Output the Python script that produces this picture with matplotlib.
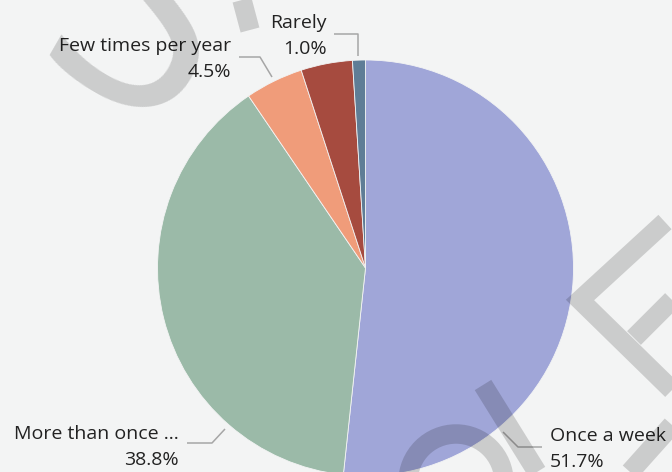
import matplotlib
matplotlib.use("Agg")
import matplotlib.pyplot as plt

# Survey answers: how often
labels = ["Once a week", "More than once ...", "Few times per year", "", "Rarely"]
shares = [51.7, 38.8, 4.5, 4.0, 1.0]
colors = ["#a0a6d8", "#9bbaa8", "#f09c7a", "#a64b3f", "#5f7d96"]

# Pie geometry in pixel units (y grows downwards)
CX, CY, R = 365.5, 268, 208
TEXTCOLOR = "#222222"
LEADERCOLOR = "#a6a6a6"
FONT = "Open Sans"
FONTSIZE = 14

# label layout: text anchor, alignment, leader polyline
layout = {
    "Once a week": ((550, 436), "left", [(503, 432), (518, 447), (542, 447)]),
    "More than once ...": ((179, 434), "right", [(225, 429), (212, 443), (187, 443)]),
    "Few times per year": ((231, 46), "right", [(272, 77), (260, 57), (239, 57)]),
    "Rarely": ((327, 23), "right", [(358, 56), (358, 34), (334, 34)]),
}

fig = plt.figure(figsize=(6.72, 4.72), dpi=100)
fig.patch.set_facecolor("#f3f4f4")
ax = fig.add_axes([0, 0, 1, 1])

# y axis is inverted, so -90 is the top and counterclock runs clockwise on screen
ax.pie(shares, colors=colors, center=(CX, CY), radius=R, startangle=-90,
       counterclock=True, frame=True,
       wedgeprops=dict(linewidth=0.6, edgecolor="#f3f4f4"))
ax.set_xlim(0, 672)
ax.set_ylim(472, 0)
ax.set_aspect("equal")
ax.axis("off")

for name, share in zip(labels, shares):
    if name not in layout:
        continue
    (tx, ty), ha, leader = layout[name]
    ax.text(tx, ty, name, ha=ha, va="center", color=TEXTCOLOR,
            fontsize=FONTSIZE, family=FONT)
    ax.text(tx, ty + 26, f"{share:.1f}%", ha=ha, va="center", color=TEXTCOLOR,
            fontsize=FONTSIZE, family=FONT)
    xs, ys = zip(*leader)
    ax.plot(xs, ys, color=LEADERCOLOR, lw=1.1, solid_capstyle="butt")

# faint watermark on top
ax.text(140, 34, "S", fontsize=215, rotation=-30, color="black", alpha=0.16,
        ha="center", va="center", family="Open Sans", zorder=5)
strokes = [
    [(665, 222), (580, 300), (672, 390)],
    [(672, 300), (634, 338)],
    [(483, 385), (537, 472)],
    [(672, 425), (630, 472)],
    [(242, 0), (250, 30)],
]
for s in strokes:
    xs, ys = zip(*s)
    ax.plot(xs, ys, color="black", alpha=0.16, lw=14, solid_joinstyle="miter",
            solid_capstyle="butt", zorder=5)
ax.add_patch(matplotlib.patches.Arc((456, 482), 96, 96, theta1=180, theta2=360,
                                    color="black", alpha=0.16, lw=14, zorder=5))

fig.savefig("out.png", dpi=100, facecolor=fig.get_facecolor())
